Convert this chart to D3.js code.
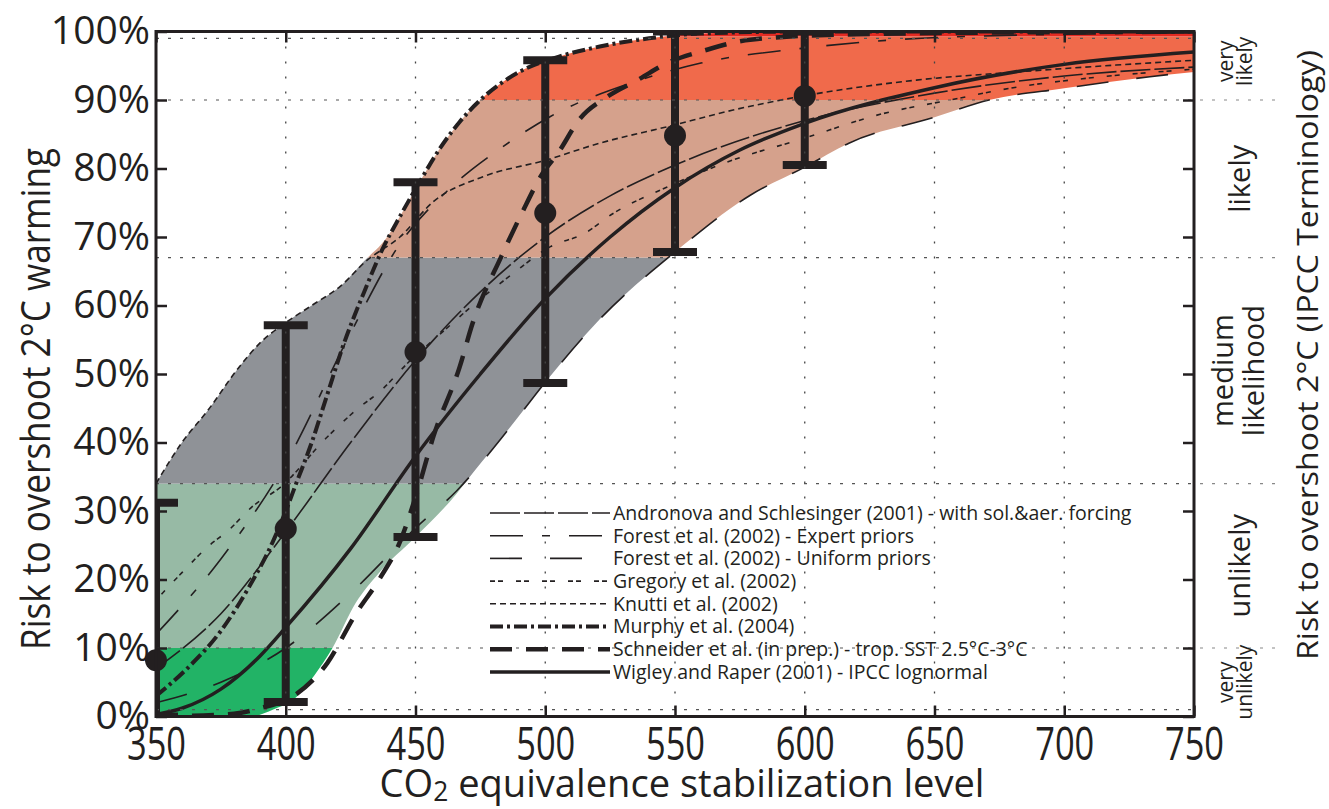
<!DOCTYPE html>
<html><head><meta charset="utf-8">
<script src="https://cdn.jsdelivr.net/npm/d3@7"></script>
<style>
body{margin:0;background:#fff;}
svg{display:block;}
</style></head><body>
<svg id="chart" width="1329" height="809"></svg>
<script>
// ---------- data ----------
const co2Ticks = [350,400,450,500,550,600,650,700,750];
const riskTicks = [0,0.1,0.2,0.3,0.4,0.5,0.6,0.7,0.8,0.9,1.0];
const gridCO2 = [400,450,500,550,600,650,700];
const gridRisk = [0.01,0.10,0.34,0.67,0.90,0.99];
const sideGridRisk = [0.10,0.34,0.67,0.90];

const bandLow  = [0,0.10,0.34,0.67,0.90,0.993];
const bandHigh = [0.10,0.34,0.67,0.90,0.993,1.0];
const bandLabels = [["very","unlikely"],["unlikely"],["medium","likelihood"],["likely"],["very","likely"]];

const seriesNames = [
  "Andronova and Schlesinger (2001) - with sol.&aer. forcing",
  "Forest et al. (2002) - Expert priors",
  "Forest et al. (2002) - Uniform priors",
  "Gregory et al. (2002)",
  "Knutti et al. (2002)",
  "Murphy et al. (2004)",
  "Schneider et al. (in prep.) - trop. SST 2.5\u00B0C-3\u00B0C",
  "Wigley and Raper (2001) - IPCC lognormal"
];

const andronova = [[350,0.07],[375,0.15],[400,0.27],[425,0.40],[450,0.52],[475,0.62],[500,0.70],[525,0.76],[550,0.805],[600,0.87],[650,0.91],[700,0.935],[750,0.948]];
const forestExpert = [[350,0.12],[375,0.23],[400,0.37],[425,0.56],[444,0.69],[463,0.77],[483,0.83],[502,0.876],[534,0.926],[560,0.954],[598,0.975],[656,0.992],[750,0.998]];
const forestUniform = [[350,0.02],[375,0.05],[400,0.10],[425,0.18],[450,0.275],[466,0.33],[486,0.42],[500,0.488],[521,0.58],[550,0.678],[579,0.761],[600,0.802],[617,0.837],[650,0.875],[671,0.90],[700,0.917],[733,0.934],[750,0.941]];
const gregory = [[350,0.17],[360,0.21],[370,0.248],[378,0.272],[387,0.306],[398,0.335],[416,0.408],[427,0.447],[437,0.477],[447,0.516],[460,0.56],[472,0.60],[487,0.645],[502,0.686],[515,0.705],[526,0.734],[547,0.773],[572,0.812],[598,0.842],[630,0.88],[656,0.90],[682,0.919],[707,0.931],[750,0.945]];
const knutti = [[350,0.34],[360,0.40],[370,0.447],[382,0.51],[390,0.545],[400,0.575],[410,0.60],[421,0.628],[431,0.665],[444,0.70],[457,0.752],[476,0.788],[500,0.812],[521,0.837],[547,0.861],[572,0.885],[598,0.905],[643,0.929],[682,0.941],[720,0.951],[750,0.958]];
const murphy = [[350,0.03],[362,0.07],[375,0.125],[386,0.19],[395,0.255],[400,0.30],[404,0.34],[410,0.40],[416,0.47],[422,0.54],[431,0.627],[437,0.68],[444,0.73],[452,0.783],[459,0.827],[467,0.868],[475,0.90],[490,0.941],[505,0.963],[521,0.978],[540,0.99],[560,0.997],[600,1.0],[750,1.0]];
const schneider = [[350,0],[380,0.004],[390,0.012],[403,0.03],[416,0.078],[427,0.15],[436,0.2],[444,0.255],[450,0.32],[457,0.41],[467,0.51],[472,0.574],[483,0.671],[491,0.735],[499,0.793],[505,0.823],[513,0.871],[524,0.905],[536,0.93],[547,0.954],[562,0.973],[579,0.988],[620,0.996],[750,1.0]];
const wigley = [[350,0.003],[360,0.012],[375,0.04],[390,0.088],[400,0.13],[425,0.245],[450,0.38],[475,0.50],[500,0.61],[525,0.70],[550,0.772],[575,0.827],[600,0.866],[650,0.918],[700,0.952],[750,0.970]];

const upperEnv = [[350,0.34],[360,0.40],[370,0.447],[382,0.51],[390,0.545],[400,0.575],[410,0.60],[421,0.628],[431,0.668],[437,0.69],[440,0.705],[444,0.73],[452,0.783],[459,0.827],[467,0.868],[475,0.90],[490,0.941],[505,0.963],[521,0.978],[540,0.99],[560,0.997],[600,1.0],[750,1.0]];
const lowerEnv = [[350,0],[386,0],[395,0.01],[404,0.028],[411,0.06],[418,0.10],[427,0.166],[436,0.21],[450,0.262],[466,0.326],[472,0.355],[486,0.42],[500,0.488],[521,0.58],[550,0.678],[579,0.761],[600,0.802],[617,0.837],[650,0.875],[671,0.90],[700,0.917],[733,0.934],[750,0.941]];

const barCO2  = [350,400,450,500,550,600];
const barMid  = [0.082,0.274,0.532,0.735,0.848,0.906];
const barLow  = [0,0.021,0.262,0.487,0.678,0.805];
const barHigh = [0.312,0.571,0.780,0.958,1.0,1.0];

// ---------- styles ----------
const ink = "#231f20";
const bandColors = ["#22b366","#97baa5","#8f9297","#d5a18c","#f06a4b","#e42a22"];
const seriesData = [andronova, forestExpert, forestUniform, gregory, knutti, murphy, schneider, wigley];
const seriesWidth = [1.6,1.6,1.6,1.6,1.6,4,4.5,3.5];
const seriesDash = ["30,4","33,19,8,19","32,28","5,3,5,13","6,4","13,4,3,4","22,14",null];
const sansFont = "'Open Sans', 'Noto Sans', sans-serif";

const svg = d3.select("#chart");
const x = d3.scaleLinear().domain([350,750]).range([156,1194]);
const y = d3.scaleLinear().domain([0,1]).range([716.5,31.5]);
const X0 = x.range()[0], X1 = x.range()[1], Y0 = y.range()[1], Y1 = y.range()[0];

const defs = svg.append("defs");
defs.append("clipPath").attr("id","plotClip").append("rect")
  .attr("x",X0).attr("y",Y0).attr("width",X1-X0).attr("height",Y1-Y0);

const line = d3.line().x(d=>x(d[0])).y(d=>y(d[1])).curve(d3.curveMonotoneX);
const envPath = line(upperEnv) + "L" + line(lowerEnv.slice().reverse()).slice(1) + "Z";
defs.append("clipPath").attr("id","envClip").append("path").attr("d", envPath);

// bands
const plot = svg.append("g").attr("clip-path","url(#plotClip)");
const bandG = plot.append("g").attr("clip-path","url(#envClip)");
bandLow.forEach((lo,i)=>{
  bandG.append("rect").attr("x",X0).attr("width",X1-X0)
    .attr("y",y(bandHigh[i])).attr("height",y(lo)-y(bandHigh[i]))
    .attr("fill",bandColors[i]);
});

// gridlines
gridCO2.forEach(v=>{
  svg.append("line").attr("x1",x(v)).attr("x2",x(v)).attr("y1",Y0).attr("y2",Y1)
    .attr("stroke","#444").attr("stroke-width",1.3).attr("stroke-dasharray","2,13");
});
gridRisk.forEach(v=>{
  svg.append("line").attr("x1",X0).attr("x2",X1).attr("y1",y(v)).attr("y2",y(v))
    .attr("stroke","#555").attr("stroke-width",1.2).attr("stroke-dasharray","3,9");
});
sideGridRisk.forEach(v=>{
  svg.append("line").attr("x1",X1+6).attr("x2",X1+82).attr("y1",y(v)).attr("y2",y(v))
    .attr("stroke","#888").attr("stroke-width",1.2).attr("stroke-dasharray","3,9");
});

// curves
seriesData.forEach((d,i)=>{
  plot.append("path").attr("d",line(d)).attr("fill","none").attr("stroke",ink)
    .attr("stroke-width",seriesWidth[i]).attr("stroke-dasharray",seriesDash[i]);
});

// error bars
const capW = 22;
barCO2.forEach((c,i)=>{
  plot.append("line").attr("x1",x(c)).attr("x2",x(c)).attr("y1",y(barLow[i])).attr("y2",y(barHigh[i]))
    .attr("stroke",ink).attr("stroke-width",8);
  [barLow[i],barHigh[i]].forEach(v=>{
    plot.append("line").attr("x1",x(c)-capW).attr("x2",x(c)+capW).attr("y1",y(v)).attr("y2",y(v))
      .attr("stroke",ink).attr("stroke-width",8);
  });
});
barCO2.forEach((c,i)=>{
  svg.append("circle").attr("cx",x(c)).attr("cy",y(barMid[i])).attr("r",11).attr("fill",ink);
});

// frame and ticks
const tickStyle = g => { g.select(".domain").remove(); g.selectAll(".tick line").attr("stroke",ink).attr("stroke-width",2.5); };
svg.append("g").attr("transform",`translate(${X0},0)`)
  .call(d3.axisLeft(y).tickValues(riskTicks).tickSize(-11).tickPadding(6).tickFormat(d=>Math.round(d*100)+"%"))
  .call(tickStyle)
  .call(g=>g.selectAll("text").attr("fill",ink).style("font-family",sansFont).style("font-size","39px"));
svg.append("g").attr("transform",`translate(${X1},0)`)
  .call(d3.axisRight(y).tickValues(riskTicks).tickSize(-11).tickFormat(""))
  .call(tickStyle);
svg.append("g").attr("transform",`translate(0,${Y1})`)
  .call(d3.axisBottom(x).tickValues(co2Ticks).tickSize(-11).tickPadding(11).tickFormat(d3.format("d")))
  .call(tickStyle)
  .call(g=>g.selectAll("text").attr("fill",ink).style("font-family",sansFont).style("font-size","46px")
     .attr("textLength",59).attr("lengthAdjust","spacingAndGlyphs"));
svg.append("g").attr("transform",`translate(0,${Y0})`)
  .call(d3.axisTop(x).tickValues(co2Ticks).tickSize(-11).tickFormat(""))
  .call(tickStyle);
svg.append("rect").attr("x",X0).attr("y",Y0).attr("width",X1-X0).attr("height",Y1-Y0)
  .attr("fill","none").attr("stroke",ink).attr("stroke-width",3);

// axis titles
svg.append("text").attr("transform","translate(50,399) rotate(-90)").attr("text-anchor","middle")
  .attr("fill",ink).style("font-family",sansFont).style("font-size","40px")
  .attr("textLength",502).attr("lengthAdjust","spacingAndGlyphs")
  .text("Risk to overshoot 2\u00B0C warming");
const xt = svg.append("text").attr("x",682).attr("y",797).attr("text-anchor","middle")
  .attr("fill",ink).style("font-family",sansFont).style("font-size","39px")
  .attr("textLength",605).attr("lengthAdjust","spacingAndGlyphs");
xt.append("tspan").text("CO");
xt.append("tspan").attr("baseline-shift","-15%").style("font-size","27px").text("2");
xt.append("tspan").text(" equivalence stabilization level");
svg.append("text").attr("transform","translate(1318,355) rotate(-90)").attr("text-anchor","middle")
  .attr("fill",ink).style("font-family",sansFont).style("font-size","30px")
  .attr("textLength",610).attr("lengthAdjust","spacingAndGlyphs")
  .text("Risk to overshoot 2\u00B0C (IPCC Terminology)");

// band labels
bandLabels.forEach((lines,i)=>{
  const cy = y((bandLow[i]+Math.min(bandHigh[i],1))/2 + (i===4?0.01:0));
  const small = lines.length===2 && lines[0]==="very";
  const fs = small ? 21 : 29;
  const gap = small ? 19 : 31;
  const baseX = lines.length===2 ? 1233 : 1250;
  lines.forEach((t,j)=>{
    svg.append("text").attr("transform",`translate(${baseX+j*gap},${cy}) rotate(-90)`)
      .attr("text-anchor","middle").attr("fill",ink)
      .style("font-family",sansFont).style("font-size",fs+"px").text(t);
  });
});

// legend
const legX0 = 490, legX1 = 610, legY = 513, legStep = 22.7;
seriesNames.forEach((n,i)=>{
  const yy = legY + i*legStep;
  svg.append("line").attr("x1",legX0).attr("x2",legX1).attr("y1",yy).attr("y2",yy)
    .attr("stroke",ink).attr("stroke-width",seriesWidth[i]).attr("stroke-dasharray",seriesDash[i]);
  svg.append("text").attr("x",legX1+3).attr("y",yy).attr("dy","0.35em").attr("fill",ink)
    .style("font-family",sansFont).style("font-size","19.5px").text(n);
});
</script>
</body></html>
